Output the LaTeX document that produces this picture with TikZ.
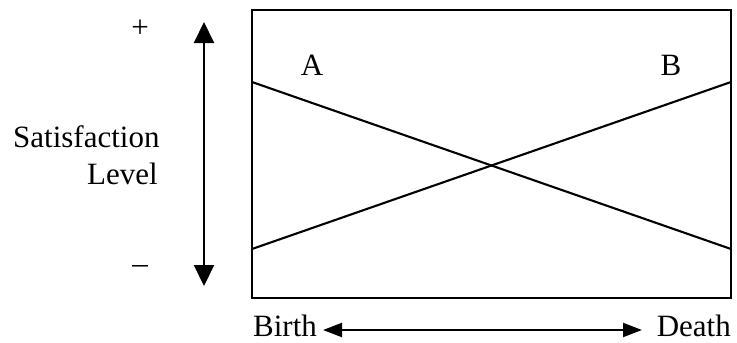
\documentclass[tikz,border=0pt]{standalone}
\usepackage{fontspec}
\setmainfont{Liberation Serif}
\usetikzlibrary{arrows.meta}
\begin{document}
\begin{tikzpicture}[x=1pt,y=-1pt,
  lbl/.style={inner sep=0pt,font=\fontsize{31}{34}\selectfont},
  thick line/.style={line width=2.1pt},
  bigarrow/.style={line width=2.1pt,{Triangle[length=21pt,width=20pt]}-{Triangle[length=21pt,width=20pt]}},
  smallarrow/.style={line width=2.1pt,{Triangle[length=19pt,width=14pt]}-{Triangle[length=19pt,width=14pt]}}]
\useasboundingbox (0,0) rectangle (737,343);
% box
\coordinate (tl) at (252,10);
\coordinate (br) at (731,298);
\draw[thick line] (tl) rectangle (br);
\coordinate (aL) at (252,82);
\coordinate (aR) at (731,249);
\coordinate (bL) at (252,249);
\coordinate (bR) at (731,82);
\draw[thick line] (aL) -- (aR);
\draw[thick line] (bL) -- (bR);
% labels in box
\node[lbl,anchor=base] (A) at (312,75) {A};
\node[lbl,anchor=base] (B) at (671,75) {B};
% vertical axis
\coordinate (vt) at (204,22);
\coordinate (vb) at (204,286);
\draw[bigarrow] (vt) -- (vb);
\node[lbl,anchor=base] (plus) at (140,37.5) {+};
\node[lbl,anchor=base] (minus) at (140,273) {–};
\node[lbl,anchor=base west] (sat) at (13,147) {Satisfaction};
\node[lbl,anchor=base east] (lev) at (158,184) {Level};
% horizontal axis
\node[lbl,anchor=base west] (birth) at (253,336) {Birth};
\node[lbl,anchor=base east] (death) at (731,336) {Death};
\coordinate (hl) at (323,330);
\coordinate (hr) at (642,330);
\draw[smallarrow] (hl) -- (hr);
\end{tikzpicture}
\end{document}
